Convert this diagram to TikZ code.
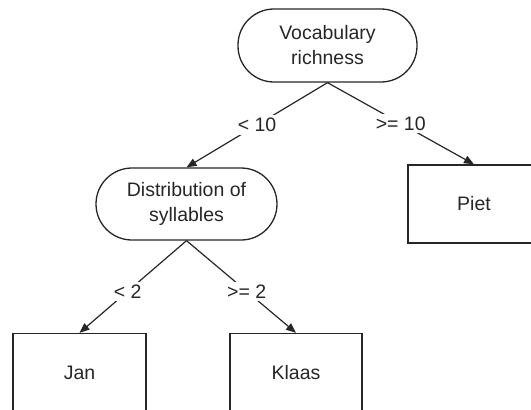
\documentclass[tikz,border=0pt]{standalone}
\usepackage{fontspec}
\setmainfont{Liberation Sans}
\usepackage{tikz}
\usetikzlibrary{arrows.meta}

\begin{document}
\begin{tikzpicture}[x=1pt, y=-1pt, >={Triangle[length=10pt, width=8pt]}]
    \tikzstyle{test} = [draw=black!85, line width=1.3pt, rounded corners=36pt, align=center, inner sep=0pt, minimum height=73pt]
    \tikzstyle{leaf} = [draw=black!85, line width=1.3pt, inner sep=0pt, minimum width=132pt, minimum height=78pt]
    \tikzstyle{branch} = [fill=white, inner sep=3pt]
    \useasboundingbox (0,0) rectangle (531,410);
    \begin{scope}
    \clip (0,0) rectangle (531,410);
    \fontsize{19.5}{25}\selectfont
    \color{black!85}
    \node[test, minimum width=179pt] (rich) at (327.5,45.5) {Vocabulary\\richness};
    \node[test, minimum width=181pt, minimum height=72pt] (dist) at (186.5,204) {Distribution of\\syllables};
    \node[leaf] (piet) at (474,204) {Piet};
    \node[leaf, minimum width=133pt] (jan) at (79.5,372.5) {Jan};
    \node[leaf] (klaas) at (296,372.5) {Klaas};
    \draw[->, line width=1.2pt] (rich.south) -- node[branch] {< 10} (dist.north);
    \draw[->, line width=1.2pt] (rich.south) -- node[branch] {>= 10} (piet.north);
    \draw[->, line width=1.2pt] (dist.south) -- node[branch, pos=0.55] {< 2} (jan.north);
    \draw[->, line width=1.2pt] (dist.south) -- node[branch, pos=0.55] {>= 2} (klaas.north);
    \end{scope}
\end{tikzpicture}
\end{document}
